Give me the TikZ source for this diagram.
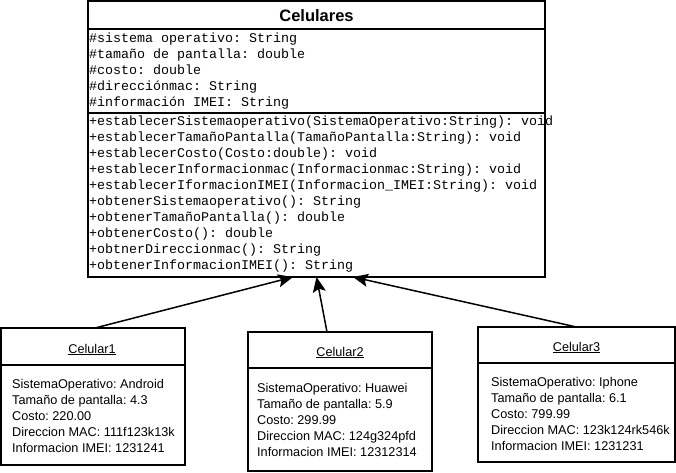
\documentclass[tikz,border=0pt]{standalone}
\usepackage{fontspec}
\setmainfont{Liberation Sans}
\newfontfamily\monof{Liberation Mono}
\usetikzlibrary{arrows.meta,calc}
\frenchspacing
\tikzset{
  clsbox/.style={draw, line width=1.5pt, fill=white, inner sep=0pt, outer sep=0pt, anchor=north west},
  objbox/.style={draw, line width=1.3pt, fill=white, inner sep=0pt, outer sep=0pt, anchor=north west},
  sep/.style={line width=1.3pt},
  monotxt/.style={anchor=base west, inner sep=0pt, font=\monof\frenchspacing\fontsize{13.33}{16}\selectfont},
  objtxt/.style={anchor=base west, inner sep=0pt, font=\frenchspacing\fontsize{12.7}{16}\selectfont},
  objtitle/.style={anchor=base, inner sep=0pt, font=\fontsize{12.7}{16}\selectfont},
  clstitle/.style={anchor=base, inner sep=0pt, font=\bfseries\fontsize{16.5}{20}\selectfont},
  inh/.style={line width=1.5pt, -{Stealth[length=15pt,width=13pt,inset=3pt]}}
}
\begin{document}
\begin{tikzpicture}[x=1pt,y=-1pt]
\useasboundingbox (0,0) rectangle (676,472);
% class box
\node[clsbox, minimum width=457pt, minimum height=276pt] (cls) at (88,1) {};
\draw[line width=1.5pt] ([yshift=-28pt]cls.north west) -- ([yshift=-28pt]cls.north east);
\draw[line width=1.5pt] ([yshift=-112pt]cls.north west) -- ([yshift=-112pt]cls.north east);
\node[clstitle] (title) at (316.5,21) {Celulares};
\foreach \t [count=\i from 0] in {
  \#sistema operativo: String,
  \#tamaño de pantalla: double,
  \#costo: double,
  \#direcciónmac: String,
  \#información IMEI: String}
  \node[monotxt] (attr\i) at (89,{42+16*\i}) {\t};
\foreach \t [count=\i from 0] in {
  +establecerSistemaoperativo(SistemaOperativo:String): void,
  +establecerTamañoPantalla(TamañoPantalla:String): void,
  +establecerCosto(Costo:double): void,
  +establecerInformacionmac(Informacionmac:String): void,
  +establecerIformacionIMEI(Informacion\_IMEI:String): void,
  +obtenerSistemaoperativo(): String,
  +obtenerTamañoPantalla(): double,
  +obtenerCosto(): double,
  +obtnerDireccionmac(): String,
  +obtenerInformacionIMEI(): String}
  \node[monotxt] (meth\i) at (89,{125+16.1*\i}) {\t};
% object boxes
\node[objbox, minimum width=184pt, minimum height=137pt] (c1) at (1,328) {};
\draw[sep] ([yshift=-37pt]c1.north west) -- ([yshift=-37pt]c1.north east);
\node[objtitle] (t1) at (92,353) {\underline{Celular1}};
\foreach \t [count=\i from 0] in {
  SistemaOperativo: Android,
  Tamaño de pantalla: 4.3,
  Costo: 220.00,
  Direccion MAC: 111f123k13k,
  Informacion IMEI: 1231241}
  \node[objtxt] (o1l\i) at (12,{388+16*\i}) {\t};

\node[objbox, minimum width=184pt, minimum height=139pt] (c2) at (248,332) {};
\draw[sep] ([yshift=-36pt]c2.north west) -- ([yshift=-36pt]c2.north east);
\node[objtitle] (t2) at (340,356) {\underline{Celular2}};
\foreach \t [count=\i from 0] in {
  SistemaOperativo: Huawei,
  Tamaño de pantalla: 5.9,
  Costo: 299.99,
  Direccion MAC: 124g324pfd,
  Informacion IMEI: 12312314}
  \node[objtxt] (o2l\i) at (257,{392+16*\i}) {\t};

\node[objbox, minimum width=197pt, minimum height=135pt] (c3) at (478,327) {};
\draw[sep] ([yshift=-36pt]c3.north west) -- ([yshift=-36pt]c3.north east);
\node[objtitle] (t3) at (576.5,351) {\underline{Celular3}};
\foreach \t [count=\i from 0] in {
  SistemaOperativo: Iphone,
  Tamaño de pantalla: 6.1,
  Costo: 799.99,
  Direccion MAC: 123k124rk546k,
  Informacion IMEI: 1231231}
  \node[objtxt] (o3l\i) at (491,{386+16*\i}) {\t};
% inheritance arrows
\draw[inh] ($(c1.north)+(2,0)$) -- ($(cls.south)+(-23.5,0)$);
\draw[inh] ($(c2.north)+(-13,0)$) -- (cls.south);
\draw[inh] (c3.north) -- ($(cls.south)+(36.5,0)$);
\end{tikzpicture}
\end{document}
